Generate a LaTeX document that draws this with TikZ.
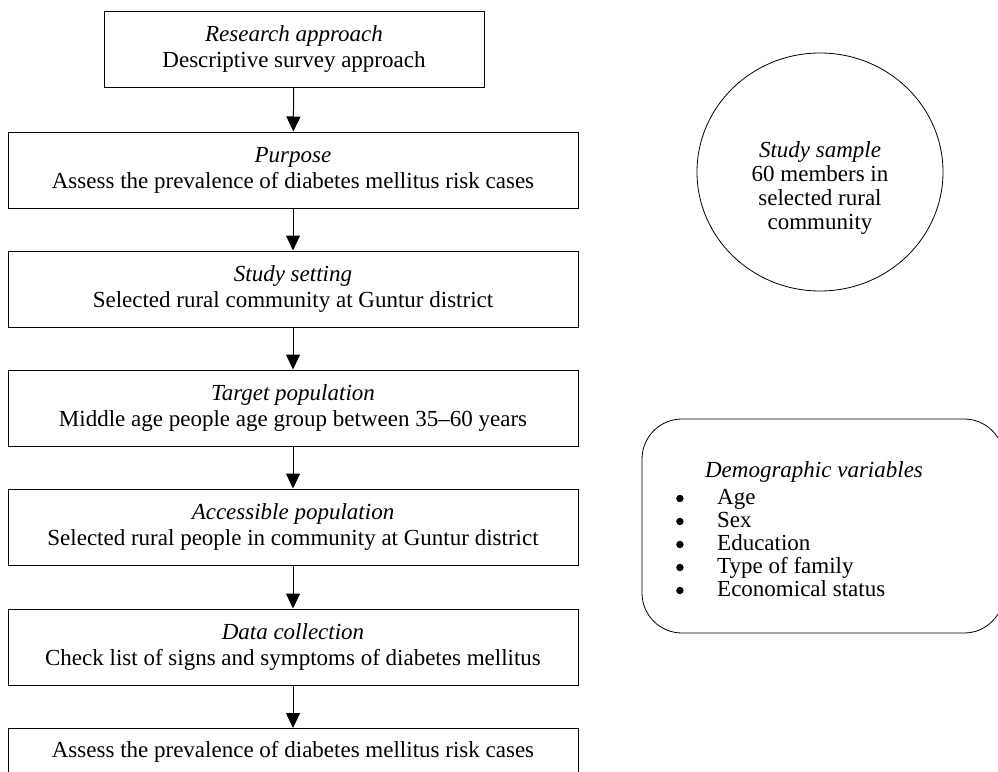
\documentclass[tikz,border=0pt]{standalone}
\usepackage{fontspec}
\setmainfont{Liberation Serif}
\usetikzlibrary{arrows.meta,shapes.geometric}
\newcommand{\bigbul}{\makebox[41pt][l]{\tikz[x=1pt,y=1pt,baseline=-6pt]\fill (3.7,0) circle[radius=3.7];}}
\begin{document}
\begin{tikzpicture}[x=1pt,y=-1pt,
  txt/.style={font=\fontsize{23}{26}\selectfont},
  box/.style={draw, line width=1pt, minimum height=76pt, align=center, inner sep=0pt, txt},
  mainbox/.style={box, minimum width=570pt},
  conn/.style={-{Triangle[length=15pt,width=14pt]}, line width=1pt}]
\useasboundingbox (0,0) rectangle (998,771);
\clip (0,0) rectangle (998,771);
% main column
\node[box, minimum width=380pt] (approach) at (294,49) {\textit{Research approach}\\Descriptive survey approach};
\node[mainbox] (purpose) at (293,170) {\textit{Purpose}\\Assess the prevalence of diabetes mellitus risk cases};
\node[mainbox] (setting) at (293,289) {\textit{Study setting}\\Selected rural community at Guntur district};
\node[mainbox] (target) at (293,408) {\textit{Target population}\\Middle age people age group between 35–60 years};
\node[mainbox] (access) at (293,527) {\textit{Accessible population}\\Selected rural people in community at Guntur district};
\node[mainbox] (collect) at (293,647) {\textit{Data collection}\\Check list of signs and symptoms of diabetes mellitus};
\node[mainbox, anchor=north] (final) at (293,728) {Assess the prevalence of diabetes mellitus risk cases\\\strut};
\draw[conn] (approach) -- (purpose);
\draw[conn] (purpose) -- (setting);
\draw[conn] (setting) -- (target);
\draw[conn] (target) -- (access);
\draw[conn] (access) -- (collect);
\draw[conn] (collect) -- (final);
% study sample
\node[draw, ellipse, line width=0.8pt, minimum width=246pt, minimum height=238pt, inner sep=0pt] (sample) at (820,172) {};
\node[align=center, inner sep=0pt, font=\fontsize{23}{24}\selectfont] (sampletext) at (820,188)
  {\textit{Study sample}\\60 members in\\selected rural\\community};
% demographic variables
\node[draw, rounded corners=40pt, line width=0.8pt, minimum width=362pt, minimum height=214pt] (demo) at (823,526) {};
\node[txt] (demohead) at (814,472) {\textit{Demographic variables}};
\node[anchor=west, align=left, inner sep=0pt, font=\fontsize{23}{23}\selectfont] (demolist) at (676,543)
  {\bigbul Age\\
   \bigbul Sex\\
   \bigbul Education\\
   \bigbul Type of family\\
   \bigbul Economical status};
\end{tikzpicture}
\end{document}
